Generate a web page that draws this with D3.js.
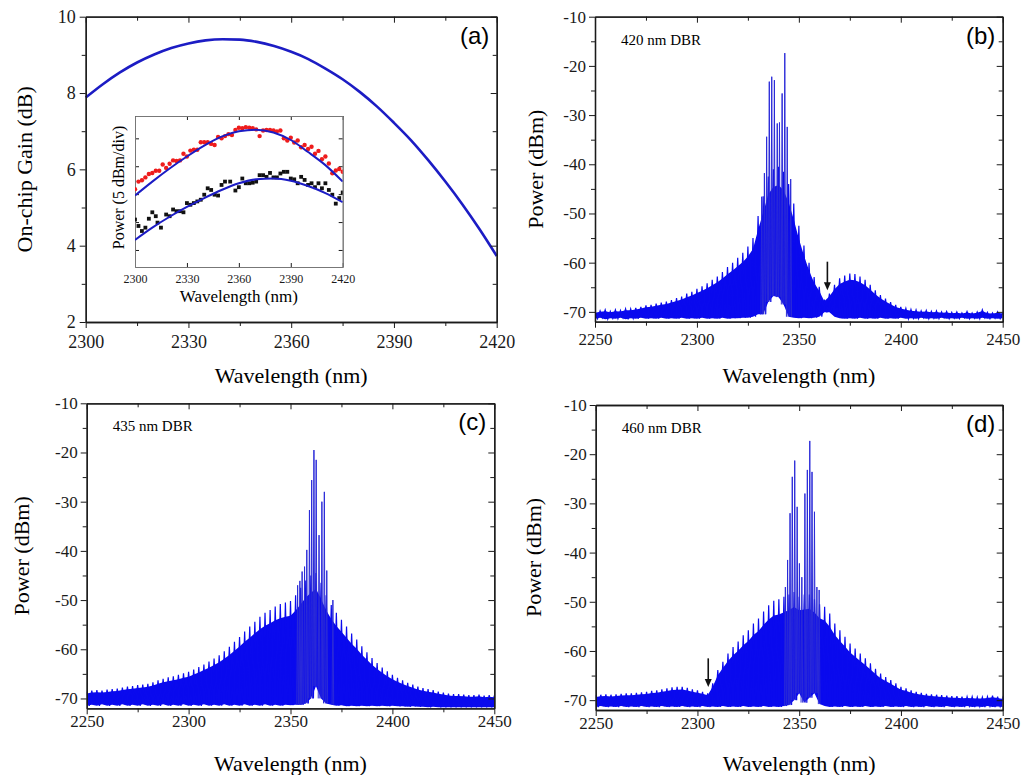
<!DOCTYPE html>
<html>
<head>
<meta charset="utf-8">
<script src="https://cdn.jsdelivr.net/npm/d3@7"></script>
<style>
  body { margin: 0; background: #fff; }
</style>
</head>
<body>
<svg id="chart"></svg>
<script>
const WIDTH = 1024
const HEIGHT = 775
const SERIF = '"Liberation Serif", "Times New Roman", serif'
const SANS = '"Liberation Sans", Arial, sans-serif'
const BLUE = "#0a0aee"
const FIT_BLUE = "#1c1cc4"

// ---- (a) on-chip gain vs wavelength
const gainWl = [2300, 2305, 2310, 2315, 2320, 2325, 2330, 2335, 2340, 2345, 2350, 2355, 2360,
  2365, 2370, 2375, 2380, 2385, 2390, 2395, 2400, 2405, 2410, 2415, 2420]
const gainDb = [7.88, 8.23, 8.54, 8.8, 9.01, 9.18, 9.3, 9.38, 9.41, 9.4, 9.34, 9.23, 9.08,
  8.89, 8.64, 8.36, 8.03, 7.65, 7.22, 6.76, 6.24, 5.68, 5.08, 4.43, 3.73]

// inset: measured power (arbitrary 5 dBm divisions) and fits
const fitWl = [2300, 2310, 2320, 2330, 2340, 2350, 2360, 2370, 2380, 2390, 2400, 2410, 2420]
const fitRed = [1.95, 2.45, 2.92, 3.35, 3.74, 4.06, 4.25, 4.31, 4.21, 3.94, 3.51, 3.04, 2.45]
const fitBlack = [0.36, 0.8, 1.19, 1.54, 1.86, 2.15, 2.39, 2.53, 2.56, 2.48, 2.29, 2.04, 1.71]
const redWl = [2300, 2302, 2304, 2306, 2308, 2310, 2312, 2314, 2316, 2318, 2320, 2322, 2324, 2326,
  2328, 2330, 2332, 2334, 2336, 2338, 2340, 2342, 2344, 2346, 2348, 2350, 2352, 2354, 2356, 2358,
  2360, 2362, 2364, 2366, 2368, 2370, 2372, 2374, 2376, 2378, 2380, 2382, 2384, 2386, 2388, 2390,
  2392, 2394, 2396, 2398, 2400, 2402, 2404, 2406, 2408, 2410, 2412, 2414, 2416, 2418, 2420]
const redPow = [2.18, 2.45, 2.5, 2.6, 2.72, 2.76, 2.84, 2.84, 3.06, 2.94, 3.09, 3.21, 3.19, 3.21,
  3.45, 3.35, 3.56, 3.59, 3.59, 3.86, 3.86, 3.86, 3.8, 3.76, 4.05, 4.0, 4.08, 4.15, 4.12, 4.3,
  4.38, 4.36, 4.4, 4.38, 4.36, 4.32, 4.08, 4.28, 4.3, 4.3, 4.28, 4.25, 4.28, 4.0, 3.92, 4.02,
  3.85, 3.92, 3.68, 3.76, 3.62, 3.7, 3.45, 3.55, 3.25, 3.35, 3.1, 2.75, 2.85, 2.9, 2.8]
const blackWl = [2300, 2302, 2304, 2306, 2308, 2310, 2312, 2313, 2315, 2318, 2320, 2322, 2324, 2326,
  2328, 2330, 2332, 2334, 2336, 2338, 2340, 2342, 2344, 2346, 2348, 2350, 2352, 2355, 2358, 2360,
  2362, 2364, 2366, 2368, 2370, 2372, 2374, 2376, 2378, 2380, 2382, 2384, 2386, 2388, 2390, 2392,
  2394, 2396, 2398, 2400, 2402, 2404, 2406, 2408, 2410, 2412, 2414, 2416, 2418, 2420]
const blackPow = [1.09, 0.86, 0.68, 0.8, 1.12, 1.35, 1.21, 0.98, 0.8, 1.27, 1.21, 1.45, 1.39, 1.39,
  1.35, 1.68, 1.62, 1.68, 1.74, 1.8, 1.98, 2.21, 2.15, 1.98, 1.95, 2.33, 2.45, 2.45, 2.13, 2.25,
  2.56, 2.39, 2.39, 2.41, 2.45, 2.68, 2.68, 2.62, 2.76, 2.6, 2.6, 2.74, 2.8, 2.8, 2.56, 2.53,
  2.39, 2.62, 2.51, 2.33, 2.39, 2.25, 2.39, 2.21, 2.39, 2.15, 1.98, 1.66, 1.86, 2.06]

// ---- (b)-(d) spectra: fringe tops / troughs read every 2.5 nm, 2250..2450
const specWl = d3.range(2250, 2450.01, 2.5)

const upperB = [-70.0, -69.8, -69.6, -69.9, -69.6, -69.7, -69.4, -69.4, -69.2, -69.0, -68.7, -68.6,
  -68.3, -68.1, -67.9, -67.6, -67.2, -66.9, -66.3, -65.9, -65.3, -64.8, -64.2, -63.5, -62.8, -61.9,
  -60.9, -60.0, -59.0, -58.0, -56.7, -55.0, -50.5, -46.5, -42.5, -41.0, -40.5, -41.5, -44.0, -48.0,
  -52.5, -56.5, -60.0, -62.9, -64.9, -67.5, -66.3, -64.5, -63.2, -62.6, -62.2, -62.3, -62.8, -63.5,
  -64.5, -65.6, -66.6, -67.3, -68.0, -68.6, -69.0, -69.3, -69.5, -69.6, -69.8, -69.7, -69.9, -69.8,
  -70.0, -69.9, -70.1, -70.0, -70.2, -69.9, -70.2, -70.0, -69.6, -70.1, -70.2, -70.0, -70.2]
const lowerB = [-71.4, -71.2, -71.5, -71.3, -71.4, -71.2, -71.5, -71.3, -71.4, -71.2, -71.4, -71.3,
  -71.4, -71.2, -71.4, -71.3, -71.4, -71.2, -71.4, -71.3, -71.4, -71.2, -71.4, -71.3, -71.4, -71.2,
  -71.4, -71.3, -71.3, -71.2, -71.2, -71.0, -70.5, -70.5, -68.0, -66.8, -67.0, -68.5, -71.0, -71.2,
  -71.3, -71.2, -71.3, -71.2, -71.0, -70.1, -70.1, -71.0, -71.3, -71.4, -71.3, -71.4, -71.2, -71.4,
  -71.3, -71.4, -71.2, -71.4, -71.3, -71.4, -71.2, -71.4, -71.3, -71.4, -71.2, -71.4, -71.3, -71.4,
  -71.2, -71.4, -71.3, -71.4, -71.2, -71.4, -71.3, -71.4, -71.2, -71.4, -71.3, -71.4, -71.3]
const peakWlB = [2331.8, 2333.1, 2334.2, 2335.5, 2336.7, 2338.0, 2339.4, 2340.5, 2341.8, 2343.1, 2344.3, 2346.0]
const peakPowB = [-46.6, -41.8, -34.4, -23.2, -22.2, -22.9, -31.7, -31.5, -25.6, -17.4, -32.4, -43.0]

const upperC = [-68.6, -68.4, -68.3, -68.4, -68.2, -68.1, -68.0, -67.8, -67.6, -67.5, -67.3, -67.2,
  -67.0, -66.7, -66.3, -66.0, -65.7, -65.5, -65.2, -64.9, -64.6, -64.1, -63.6, -63.1, -62.5, -61.9,
  -61.2, -60.4, -59.5, -58.5, -57.5, -56.4, -55.4, -54.4, -53.4, -52.6, -52.0, -51.3, -50.8, -50.5,
  -50.2, -49.0, -47.5, -46.0, -45.0, -44.5, -46.5, -49.0, -51.0, -52.6, -54.0, -55.4, -56.8, -58.0,
  -59.4, -60.6, -61.8, -62.8, -63.7, -64.5, -65.2, -65.8, -66.3, -66.8, -67.2, -67.6, -67.9, -68.1,
  -68.3, -68.6, -68.8, -69.0, -69.1, -69.1, -69.2, -69.3, -69.3, -69.2, -69.4, -69.3, -69.4]
const lowerC = [-71.5, -71.3, -71.5, -71.2, -71.5, -71.3, -71.5, -71.2, -71.5, -71.3, -71.5, -71.2,
  -71.5, -71.3, -71.5, -71.2, -71.5, -71.3, -71.5, -71.2, -71.5, -71.3, -71.5, -71.2, -71.5, -71.3,
  -71.5, -71.2, -71.5, -71.3, -71.5, -71.2, -71.5, -71.3, -71.5, -71.2, -71.5, -71.3, -71.5, -71.3,
  -71.4, -71.3, -71.3, -71.0, -70.0, -67.5, -70.0, -71.0, -71.3, -71.5, -71.4, -71.6, -71.5, -71.6,
  -71.5, -71.6, -71.5, -71.6, -71.5, -71.6, -71.5, -71.6, -71.6, -71.7, -71.6, -71.7, -71.7, -71.8,
  -71.7, -71.8, -71.8, -71.8, -71.8, -71.8, -71.8, -71.8, -71.8, -71.8, -71.8, -71.8, -71.8]
const peakWlC = [2353.5, 2354.6, 2355.7, 2356.9, 2358.0, 2359.3, 2360.4, 2361.5, 2362.6, 2364.0, 2365.4, 2366.6, 2367.8, 2370.8]
const peakPowC = [-47.0, -46.1, -44.2, -43.2, -39.8, -31.7, -25.6, -19.5, -21.5, -36.8, -30.0, -28.0, -44.0, -50.0]

const upperD = [-69.0, -68.9, -68.8, -68.9, -68.8, -68.7, -68.6, -68.6, -68.5, -68.4, -68.3, -68.1,
  -68.0, -67.8, -67.6, -67.4, -67.3, -67.3, -67.5, -67.8, -68.0, -68.3, -68.6, -66.6, -63.9, -62.2,
  -60.5, -59.2, -58.1, -56.8, -55.8, -54.4, -53.4, -52.0, -50.7, -49.8, -49.5, -49.0, -48.5, -48.0,
  -49.0, -48.5, -48.5, -49.5, -50.5, -51.0, -52.4, -54.4, -55.8, -57.1, -58.5, -59.5, -60.5, -61.5,
  -62.5, -63.6, -64.6, -65.3, -65.9, -66.6, -67.3, -67.6, -68.0, -68.3, -68.5, -68.7, -68.8, -68.9,
  -69.0, -69.1, -69.2, -69.2, -69.3, -69.3, -69.3, -69.4, -69.4, -69.3, -69.1, -69.3, -69.5]
const lowerD = [-71.4, -71.2, -71.4, -71.3, -71.4, -71.2, -71.4, -71.3, -71.4, -71.2, -71.4, -71.3,
  -71.4, -71.2, -71.4, -71.3, -71.4, -71.2, -71.4, -71.3, -71.4, -71.2, -71.4, -71.3, -71.4, -71.2,
  -71.4, -71.3, -71.4, -71.2, -71.4, -71.3, -71.4, -71.2, -71.4, -71.3, -71.4, -71.2, -71.0, -70.0,
  -68.6, -70.5, -69.5, -68.6, -70.8, -71.2, -71.4, -71.3, -71.4, -71.2, -71.4, -71.3, -71.4, -71.2,
  -71.4, -71.3, -71.4, -71.2, -71.4, -71.3, -71.4, -71.2, -71.4, -71.3, -71.4, -71.2, -71.4, -71.3,
  -71.4, -71.2, -71.4, -71.3, -71.4, -71.2, -71.4, -71.3, -71.4, -71.2, -71.4, -71.3, -71.4]
const peakWlD = [2343.2, 2344.3, 2345.5, 2346.6, 2347.8, 2349.0, 2350.1, 2351.3, 2352.8, 2354.0, 2355.2, 2356.3, 2357.5, 2358.7, 2359.8]
const peakPowD = [-47.0, -41.5, -32.0, -24.6, -21.3, -30.7, -42.2, -45.0, -28.0, -23.2, -17.3, -23.6, -31.7, -47.0, -47.6]

// arrows marking the DBR stop band (wavelength, from, to)
const arrowB = [2364.0, -59.8, -65.6]
const arrowD = [2305.3, -61.5, -67.3]

const svg = d3.select("#chart").attr("width", WIDTH).attr("height", HEIGHT)

// plot boxes in pixels
const boxA = { l: 85.7, t: 16.7, r: 496.7, b: 322 }
const boxB = { l: 595, t: 16.7, r: 1002.7, b: 321.7 }
const boxC = { l: 86.7, t: 403.3, r: 494.3, b: 708.3 }
const boxD = { l: 595.7, t: 405, r: 1002.7, b: 710 }

function panel(box, xDomain, yDomain, id) {
  const w = box.r - box.l
  const h = box.b - box.t
  const g = svg.append("g").attr("transform", `translate(${box.l},${box.t})`)
  const x = d3.scaleLinear().domain(xDomain).range([0, w])
  const y = d3.scaleLinear().domain(yDomain).range([h, 0])
  svg.append("clipPath").attr("id", id).append("rect").attr("width", w).attr("height", h)
  return { g, x, y, w, h, box }
}

// frame: left/bottom ticks point out, top/right ticks point in
function axes(p, o) {
  const { g, x, y, w, h } = p
  const style = (s) => {
    s.attr("font-family", SERIF).attr("font-size", o.fs).attr("color", "#1a1a1a")
    s.select(".domain").attr("stroke-width", o.sw || 1.3)
    s.selectAll(".tick line").attr("stroke-width", 1)
  }
  const put = (axis, tr) => g.append("g").attr("transform", tr).call(axis).call(style)
  const out = o.out ? 1 : -1
  const xFmt = (d) => String(d)
  const yFmt = o.yLabels === false ? "" : (d) => String(d)
  put(d3.axisBottom(x).tickValues(o.xMajor).tickSize(out * o.tick).tickSizeOuter(0).tickPadding(o.xPad).tickFormat(xFmt), `translate(0,${h})`)
  put(d3.axisBottom(x).tickValues(o.xMinor).tickSize(out * o.minor).tickSizeOuter(0).tickFormat(""), `translate(0,${h})`)
  put(d3.axisTop(x).tickValues(o.xMajor).tickSize(-o.tick).tickSizeOuter(0).tickFormat(""), "translate(0,0)")
  put(d3.axisTop(x).tickValues(o.xMinor).tickSize(-o.minor).tickSizeOuter(0).tickFormat(""), "translate(0,0)")
  put(d3.axisLeft(y).tickValues(o.yMajor).tickSize(out * o.tick).tickSizeOuter(0).tickPadding(o.yPad).tickFormat(yFmt), "translate(0,0)")
  put(d3.axisLeft(y).tickValues(o.yMinor).tickSize(out * o.minor).tickSizeOuter(0).tickFormat(""), "translate(0,0)")
  put(d3.axisRight(y).tickValues(o.yMajor).tickSize(-o.tick).tickSizeOuter(0).tickFormat(""), `translate(${w},0)`)
  put(d3.axisRight(y).tickValues(o.yMinor).tickSize(-o.minor).tickSizeOuter(0).tickFormat(""), `translate(${w},0)`)
}

function titles(p, xTitle, yTitle, xBase, yBase) {
  svg.append("text")
    .attr("x", p.box.l + p.w / 2).attr("y", xBase)
    .attr("text-anchor", "middle").attr("font-family", SERIF).attr("font-size", 22)
    .text(xTitle)
  svg.append("text")
    .attr("transform", `translate(${yBase},${p.box.t + p.h / 2}) rotate(-90)`)
    .attr("text-anchor", "middle").attr("font-family", SERIF).attr("font-size", 22)
    .text(yTitle)
}

function letter(p, txt) {
  p.g.append("text").attr("x", p.w - 22).attr("y", 27)
    .attr("text-anchor", "middle").attr("font-family", SANS).attr("font-size", 24)
    .text(txt)
}

const specTicks = (xPad) => ({
  fs: 17, tick: 6, minor: 4, xPad, yPad: 3, out: true,
  xMajor: [2250, 2300, 2350, 2400, 2450], xMinor: [2275, 2325, 2375, 2425],
  yMajor: [-70, -60, -50, -40, -30, -20, -10], yMinor: [-65, -55, -45, -35, -25, -15]
})

function spectrum(p, id, upper, lower, peakWl, peakPow, label, arrow) {
  const { g, x, y } = p
  const step = specWl[1] - specWl[0]
  const rows = specWl.map((w, i) => ({ w, hi: upper[i], lo: lower[i] }))
  const c = g.append("g").attr("clip-path", `url(#${id})`)

  // solid body of the fringe band
  c.append("path").datum(rows)
    .attr("fill", BLUE)
    .attr("d", d3.area().x((d) => x(d.w)).y0((d) => y(d.lo)).y1((d) => y(d.lo + 0.86 * (d.hi - d.lo))))

  // fringes: each reading is a top followed by a trough
  const comb = rows.flatMap((d) => [[d.w, d.hi], [d.w + step / 2, d.lo]])
  c.append("path").datum(comb)
    .attr("fill", "none").attr("stroke", BLUE).attr("stroke-width", 1.2)
    .attr("d", d3.line().x((d) => x(d[0])).y((d) => y(d[1])))

  // strong lasing modes
  const baseAt = (w) => lower[Math.round((w - specWl[0]) / step)]
  c.selectAll(".mode").data(peakWl).join("path")
    .attr("class", "mode")
    .attr("fill", "none").attr("stroke", "#2a2ad8").attr("stroke-width", 1)
    .attr("d", (w, i) => d3.line()([
      [x(w - 0.4), y(baseAt(w))], [x(w), y(peakPow[i])], [x(w + 0.4), y(baseAt(w))]
    ]))

  p.g.append("text").attr("x", 26).attr("y", 28)
    .attr("font-family", SERIF).attr("font-size", 15)
    .text(label)

  if (arrow) {
    const ax = x(arrow[0])
    const y0 = y(arrow[1])
    const y1 = y(arrow[2])
    p.g.append("line").attr("x1", ax).attr("x2", ax).attr("y1", y0).attr("y2", y1 - 4)
      .attr("stroke", "#111").attr("stroke-width", 1.6)
    p.g.append("path").attr("fill", "#111")
      .attr("d", `M${ax - 3.5},${y1 - 8} L${ax + 3.5},${y1 - 8} L${ax},${y1} Z`)
  }
}

// ---------- (a)
const pA = panel(boxA, [2300, 2420], [2, 10], "clipA")
pA.g.append("path").datum(gainWl)
  .attr("fill", "none").attr("stroke", FIT_BLUE).attr("stroke-width", 2.6)
  .attr("d", d3.line().curve(d3.curveMonotoneX).x((d) => pA.x(d)).y((d, i) => pA.y(gainDb[i])))
axes(pA, {
  fs: 18, tick: 6, minor: 4, xPad: 7, yPad: 4, out: true,
  xMajor: [2300, 2330, 2360, 2390, 2420], xMinor: [2315, 2345, 2375, 2405],
  yMajor: [2, 4, 6, 8, 10], yMinor: [3, 5, 7, 9]
})
letter(pA, "(a)")
titles(pA, "Wavelength (nm)", "On-chip Gain (dB)", 383, 32)

// inset
const boxI = { l: 135, t: 116, r: 342.7, b: 267 }
const pI = panel(boxI, [2300, 2420], [-0.61, 4.8], "clipI")
pI.g.append("rect").attr("width", pI.w).attr("height", pI.h).attr("fill", "#fff")
axes(pI, {
  fs: 12, tick: 4, minor: 0, xPad: 7, yPad: 4, sw: 1, yLabels: false,
  xMajor: [2300, 2330, 2360, 2390, 2420], xMinor: [],
  yMajor: [0, 1, 2, 3, 4], yMinor: []
})
pI.g.selectAll(".domain").attr("stroke", "#777")
const ic = pI.g.append("g").attr("clip-path", "url(#clipI)")
const fitLine = (vals) => d3.line().curve(d3.curveMonotoneX).x((d) => pI.x(d)).y((d, i) => pI.y(vals[i]))
ic.selectAll(".red").data(redWl).join("circle")
  .attr("cx", (d) => pI.x(d)).attr("cy", (d, i) => pI.y(redPow[i])).attr("r", 2.2).attr("fill", "#ee1c1c")
ic.selectAll(".blk").data(blackWl).join("rect")
  .attr("x", (d) => pI.x(d) - 1.9).attr("y", (d, i) => pI.y(blackPow[i]) - 1.9)
  .attr("width", 3.8).attr("height", 3.8).attr("fill", "#111")
ic.append("path").datum(fitWl).attr("fill", "none").attr("stroke", FIT_BLUE).attr("stroke-width", 2).attr("d", fitLine(fitRed))
ic.append("path").datum(fitWl).attr("fill", "none").attr("stroke", FIT_BLUE).attr("stroke-width", 2).attr("d", fitLine(fitBlack))
svg.append("text").attr("x", boxI.l + pI.w / 2).attr("y", 302)
  .attr("text-anchor", "middle").attr("font-family", SERIF).attr("font-size", 17)
  .text("Wavelength (nm)")
svg.append("text").attr("transform", `translate(124,${boxI.t + pI.h / 2 - 4}) rotate(-90)`)
  .attr("text-anchor", "middle").attr("font-family", SERIF).attr("font-size", 16)
  .text("Power (5 dBm/div)")

// ---------- (b)
const pB = panel(boxB, [2250, 2450], [-72, -10], "clipB")
spectrum(pB, "clipB", upperB, lowerB, peakWlB, peakPowB, "420 nm DBR", arrowB)
axes(pB, specTicks(5))
letter(pB, "(b)")
titles(pB, "Wavelength (nm)", "Power (dBm)", 383, 543)

// ---------- (c)
const pC = panel(boxC, [2250, 2450], [-72, -10], "clipC")
spectrum(pC, "clipC", upperC, lowerC, peakWlC, peakPowC, "435 nm DBR", null)
axes(pC, specTicks(1))
letter(pC, "(c)")
titles(pC, "Wavelength (nm)", "Power (dBm)", 771, 29)

// ---------- (d)
const pD = panel(boxD, [2250, 2450], [-72, -10], "clipD")
spectrum(pD, "clipD", upperD, lowerD, peakWlD, peakPowD, "460 nm DBR", arrowD)
axes(pD, specTicks(1))
letter(pD, "(d)")
titles(pD, "Wavelength (nm)", "Power (dBm)", 771, 541)
</script>
</body>
</html>
